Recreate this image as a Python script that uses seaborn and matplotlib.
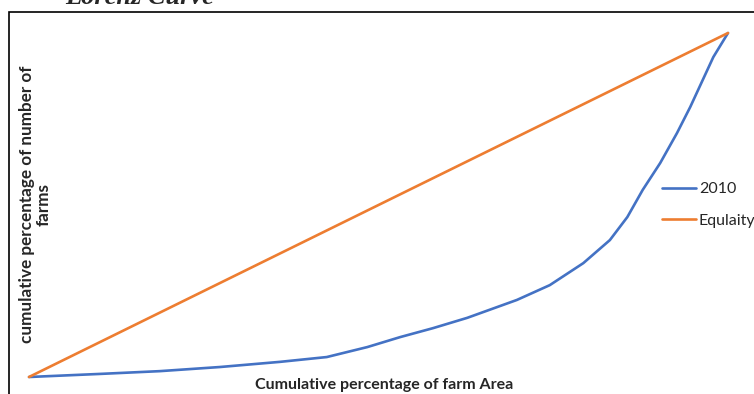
import pandas as pd
import matplotlib
matplotlib.use('Agg')
import matplotlib.pyplot as plt
from matplotlib.patches import Rectangle
import seaborn as sns

# cumulative % of farm area (x) vs cumulative % of number of farms (y)
area_2010 = [0, 10.2, 18.7, 27.3, 35.9, 42.6, 48.4, 53.1, 57.8, 62.7, 69.8, 74.5,
             79.3, 83.1, 85.6, 87.8, 90.3, 92.7, 94.6, 97.9, 100]
farms_2010 = [0, 0.9, 1.7, 2.9, 4.4, 5.8, 8.7, 11.6, 14.2, 17.2, 22.4, 26.7,
              33.1, 39.8, 46.5, 54.4, 62.2, 70.9, 78.5, 93.0, 100]
area_eq = [0, 100]
farms_eq = [0, 100]

df_2010 = pd.DataFrame({'area': area_2010, 'farms': farms_2010})
df_eq = pd.DataFrame({'area': area_eq, 'farms': farms_eq})

sns.set_style('white')
plt.rcParams['font.family'] = ['Lato', 'DejaVu Sans']

W, H = 754, 394
fig = plt.figure(figsize=(W / 100, H / 100), dpi=100)
ax = fig.add_axes([29 / W, 1 - 377 / H, (728 - 29) / W, (377 - 33) / H])

sns.lineplot(data=df_2010, x='area', y='farms', color='#4472C4', linewidth=1.9,
             label='2010', ax=ax, clip_on=False)
sns.lineplot(data=df_eq, x='area', y='farms', color='#ED7D31', linewidth=1.9,
             label='Equlaity', ax=ax, clip_on=False)

ax.set_xlim(0, 100)
ax.set_ylim(0, 100)
ax.set_xticks([])
ax.set_yticks([])
ax.set_xlabel('')
ax.set_ylabel('')
sns.despine(ax=ax, left=True, bottom=True)

ax.legend(loc='center left', bbox_to_anchor=(662 / W, 1 - 205 / H),
          bbox_transform=fig.transFigure, frameon=False, fontsize=11.5,
          handlelength=2.1, handletextpad=0.2, labelspacing=1.1,
          borderaxespad=0, borderpad=0)

# chart area border (runs off the right and bottom of the image)
fig.patches.append(Rectangle((9 / W, -0.1), 1.2, 1 - 12 / H + 0.1,
                             transform=fig.transFigure, fill=False,
                             edgecolor='black', linewidth=1.2))

fig.text(140 / W, 1 - 4 / H, 'Lorenz Curve', ha='center', va='baseline',
         fontsize=19, fontweight='bold', style='italic', family='Liberation Serif')
fig.text(384 / W, 1 - 385 / H, 'Cumulative percentage of farm Area', ha='center',
         va='center', fontsize=11.5, fontweight='bold')
fig.text(35 / W, 1 - 204 / H, 'cumulative percentage of number of\nfarms', ha='center',
         va='center', rotation=90, fontsize=12.3, fontweight='bold', linespacing=1.05)

fig.savefig('out.png', dpi=100)
